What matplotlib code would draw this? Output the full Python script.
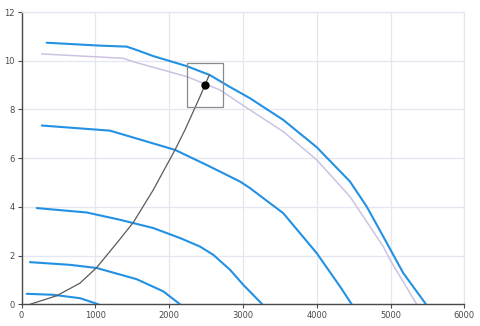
import matplotlib
matplotlib.use('Agg')
import matplotlib.pyplot as plt
from matplotlib.patches import Rectangle

# ファンカーブ（流量, 圧力）
curve1_x = [341, 1064, 1425, 1561, 1786, 2238, 2554, 2780, 3096, 3547, 4000, 4451, 4678, 4902, 5173, 5481]
curve1_y = [10.74, 10.62, 10.58, 10.44, 10.19, 9.78, 9.41, 9.0, 8.46, 7.57, 6.45, 5.04, 4.01, 2.78, 1.28, 0]

curve2_x = [274, 1199, 2080, 2509, 2961, 3096, 3547, 4000, 4316, 4474]
curve2_y = [7.34, 7.13, 6.34, 5.72, 5.04, 4.77, 3.74, 2.1, 0.73, 0]

curve3_x = [206, 883, 1335, 1786, 2148, 2419, 2599, 2825, 3005, 3263]
curve3_y = [3.95, 3.77, 3.47, 3.13, 2.72, 2.37, 2.03, 1.42, 0.8, 0]

curve4_x = [115, 657, 1019, 1561, 1921, 2148]
curve4_y = [1.73, 1.62, 1.49, 1.03, 0.53, 0]

curve5_x = [70, 431, 793, 1041]
curve5_y = [0.43, 0.39, 0.25, 0]

# 薄い紫のカーブ
ref_x = [274, 1379, 1515, 1786, 2238, 2690, 3096, 3547, 4000, 4451, 4902, 4993, 5355]
ref_y = [10.28, 10.1, 9.96, 9.73, 9.35, 8.8, 7.98, 7.09, 5.93, 4.42, 2.37, 1.83, 0]

# システムカーブ
sys_x = [115, 477, 793, 1019, 1290, 1515, 1786, 2080, 2215, 2419, 2545]
sys_y = [0, 0.35, 0.87, 1.51, 2.51, 3.36, 4.7, 6.34, 7.16, 8.53, 9.42]

# 運転点
op_x = 2486
op_y = 9.0
box_dx = 248
box_dy = 0.9

x_ticks = [0, 1000, 2000, 3000, 4000, 5000, 6000]
y_ticks = [0, 2, 4, 6, 8, 10, 12]

fig = plt.figure(figsize=(4.8, 3.26), dpi=100)
ax = fig.add_axes([0.0448, 0.0666, 0.9225, 0.8965])

blue = '#2391e3'
for xs, ys in [(curve1_x, curve1_y), (curve2_x, curve2_y), (curve3_x, curve3_y),
               (curve4_x, curve4_y), (curve5_x, curve5_y)]:
    ax.plot(xs, ys, color=blue, lw=1.5, solid_capstyle='round', solid_joinstyle='round', zorder=3)

ax.plot(ref_x, ref_y, color='#cdc2e2', lw=1.1, solid_joinstyle='round', zorder=2)
ax.plot(sys_x, sys_y, color='#5a5a5a', lw=0.9, solid_joinstyle='round', zorder=4)
ax.plot([op_x], [op_y], 'o', color='black', ms=5, zorder=5)
ax.add_patch(Rectangle((op_x - box_dx, op_y - box_dy), 2 * box_dx, 2 * box_dy,
                       fill=False, edgecolor='#8a8a8a', lw=0.9, zorder=4))

ax.set_xlim(0, 6000)
ax.set_ylim(0, 12)
ax.set_xticks(x_ticks)
ax.set_yticks(y_ticks)
ax.grid(True, color='#e4e6f0', lw=0.9)
ax.set_axisbelow(True)

for s in ['top', 'right']:
    ax.spines[s].set_color('#e4e6f0')
    ax.spines[s].set_linewidth(0.9)
for s in ['left', 'bottom']:
    ax.spines[s].set_color('#4a4a4a')
    ax.spines[s].set_linewidth(1.0)

ax.tick_params(axis='both', labelsize=6, colors='#4a4a4a', length=3, width=0.8, pad=2)

fig.savefig('out.png', dpi=100)
